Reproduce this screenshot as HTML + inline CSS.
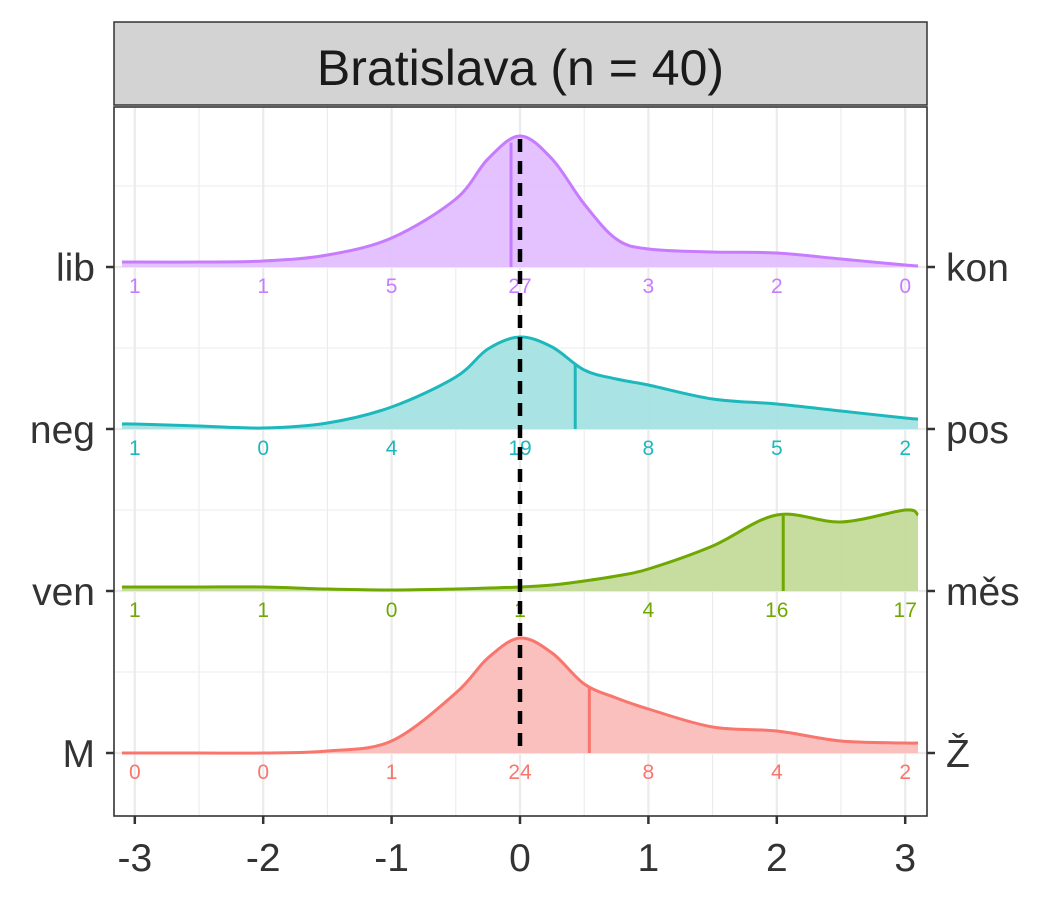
<!DOCTYPE html>
<html><head><meta charset="utf-8"><style>
body{margin:0;background:#fff;}
svg{display:block;font-family:"Liberation Sans",sans-serif;}
</style></head><body>
<svg id="c" width="1050" height="900"></svg>
<script>
const xGrid=[-3.1,-3,-2.5,-2,-1.5,-1,-0.5,-0.25,0,0.25,0.5,0.75,1,1.5,2,2.5,3,3.1];
const rowsLeft=["lib","neg","ven","M"];
const rowsRight=["kon","pos","měs","Ž"];
const densLib=[0.05,0.05,0.05,0.06,0.12,0.29,0.68,1.08,1.31,1.08,0.63,0.28,0.18,0.15,0.14,0.08,0.02,0.01];
const densNeg=[0.05,0.05,0.03,0.01,0.06,0.22,0.52,0.80,0.92,0.82,0.59,0.50,0.44,0.30,0.25,0.18,0.11,0.10];
const densVen=[0.04,0.04,0.04,0.04,0.02,0.01,0.02,0.03,0.04,0.06,0.10,0.15,0.22,0.45,0.76,0.69,0.81,0.76];
const densM=[0,0,0,0,0.02,0.12,0.60,0.95,1.15,1.00,0.69,0.55,0.44,0.26,0.22,0.12,0.10,0.10];
const medians=[-0.07,0.43,2.05,0.54];
const countsLib=[1,1,5,27,3,2,0];
const countsNeg=[1,0,4,19,8,5,2];
const countsVen=[1,1,0,1,4,16,17];
const countsM=[0,0,1,24,8,4,2];
const xTicks=[-3,-2,-1,0,1,2,3];

const dens=[densLib,densNeg,densVen,densM];
const counts=[countsLib,countsNeg,countsVen,countsM];
const colors=["#C77CFF","#1DB8BB","#6FA800","#F8766D"];
const fills=["#E2BFFF","#A5E1E2","#C4DA9A","#F9BDBB"];
const NS="http://www.w3.org/2000/svg";
const svg=document.getElementById('c');
const L=114,R=927,T=107,B=816;
const xs=v=>520+v*128.4;
const base=[267,429,591,753];
const ys=(i,d)=>base[i]-d*100;
function mk(t,a,p){const e=document.createElementNS(NS,t);for(const k in a)e.setAttribute(k,a[k]);(p||svg).appendChild(e);return e;}

const strip=mk('rect',{x:L,y:22,width:R-L,height:83,fill:'#d3d3d3',stroke:'#333','stroke-width':1.5});


const st=mk('text',{x:(L+R)/2,y:85,'text-anchor':'middle','font-size':50,fill:'#1a1a1a'});
st.textContent='Bratislava (n = 40)';



mk('rect',{x:L,y:T,width:R-L,height:B-T,fill:'#fff'});
const g=mk('g',{});


for(let v=-3;v<=3.01;v+=0.5){const X=xs(v);const maj=Math.abs(v-Math.round(v))<0.01;
 mk('line',{x1:X,x2:X,y1:T,y2:B,stroke:'#ebebeb','stroke-width':maj?2.2:1.1},g);}
for(let i=0;i<4;i++){mk('line',{x1:L,x2:R,y1:base[i],y2:base[i],stroke:'#ebebeb','stroke-width':2.2},g);
 mk('line',{x1:L,x2:R,y1:base[i]-81,y2:base[i]-81,stroke:'#ebebeb','stroke-width':1.1},g);}

function smoothPath(pts){let d=`M${pts[0][0]},${pts[0][1]}`;
 for(let i=0;i<pts.length-1;i++){const p0=pts[Math.max(0,i-1)],p1=pts[i],p2=pts[i+1],p3=pts[Math.min(pts.length-1,i+2)];
 const c1=[p1[0]+(p2[0]-p0[0])/6,p1[1]+(p2[1]-p0[1])/6],c2=[p2[0]-(p3[0]-p1[0])/6,p2[1]-(p3[1]-p1[1])/6];
 d+=` C${c1[0]},${c1[1]} ${c2[0]},${c2[1]} ${p2[0]},${p2[1]}`;}return d;}
function interp(arr,v){for(let k=0;k<xGrid.length-1;k++){if(v>=xGrid[k]&&v<=xGrid[k+1]){const t=(v-xGrid[k])/(xGrid[k+1]-xGrid[k]);return arr[k]+(arr[k+1]-arr[k])*t;}}return 0;}

const names=['ridge-lib-kon','ridge-neg-pos','ridge-ven-mes','ridge-m-z'];
for(let i=0;i<4;i++){
 const gg=mk('g',{});
 
 
 const pts=xGrid.map((v,k)=>[xs(v),ys(i,dens[i][k])]);
 const line=smoothPath(pts);
 mk('path',{d:line+` L${xs(xGrid[xGrid.length-1])},${base[i]} L${xs(xGrid[0])},${base[i]} Z`,fill:fills[i],'fill-opacity':0.95},gg);
 mk('path',{d:line,fill:'none',stroke:colors[i],'stroke-width':3},gg);
 const mx=xs(medians[i]);
 const ml=mk('line',{x1:mx,x2:mx,y1:base[i],y2:ys(i,interp(dens[i],medians[i])),stroke:colors[i],'stroke-width':3},gg);
 
 
 counts[i].forEach((c,k)=>{const t=mk('text',{x:xs(xTicks[k]),y:base[i]+26,'text-anchor':'middle','font-size':21,fill:colors[i]},gg);t.textContent=c;
  
  });
}
const z=mk('line',{x1:xs(0),x2:xs(0),y1:ys(0,densLib[8])+3,y2:base[3],stroke:'#000','stroke-width':4.5,'stroke-dasharray':'13,9'});


mk('rect',{x:L,y:T,width:R-L,height:B-T,fill:'none',stroke:'#333','stroke-width':1.6});

for(let i=0;i<4;i++){
 mk('line',{x1:L-8,x2:L,y1:base[i],y2:base[i],stroke:'#333','stroke-width':2.5});
 mk('line',{x1:R,x2:R+8,y1:base[i],y2:base[i],stroke:'#333','stroke-width':2.5});
 const a=mk('text',{x:L-19,y:base[i]+14,'text-anchor':'end','font-size':39,fill:'#333'});a.textContent=rowsLeft[i];
 
 
 const b=mk('text',{x:R+19,y:base[i]+14,'font-size':39,fill:'#333'});b.textContent=rowsRight[i];
 
 
}
xTicks.forEach(v=>{mk('line',{x1:xs(v),x2:xs(v),y1:B,y2:B+8,stroke:'#333','stroke-width':2.5});
 const t=mk('text',{x:xs(v),y:B+55,'text-anchor':'middle','font-size':39,fill:'#333'});t.textContent=v;
 
 });
</script>
</body></html>
